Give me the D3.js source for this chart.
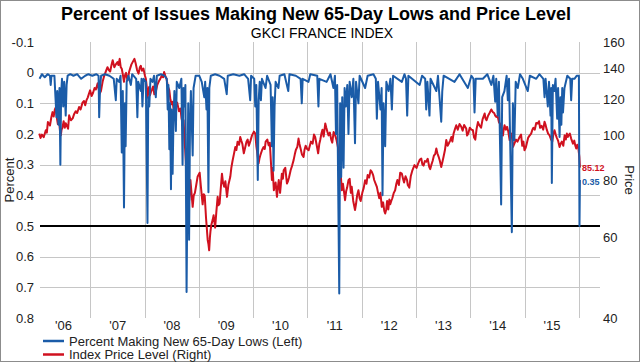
<!DOCTYPE html>
<html>
<head>
<meta charset="utf-8">
<script src="https://cdn.jsdelivr.net/npm/d3@7"></script>
<style>
  body { margin: 0; background: #fff; }
  svg { display: block; font-family: "Liberation Sans", Arial, sans-serif; }
</style>
</head>
<body>
<div id="chart"></div>
<script>
// percent of issues making new 65-day lows (left axis)
const lowsSeries = [
  ["2006-01-25", 0.02], ["2006-02-10", 0.005], ["2006-03-01", 0.015], ["2006-03-20", 0.005],
  ["2006-04-05", 0.01], ["2006-04-10", 0.04], ["2006-04-15", 0.01], ["2006-05-05", 0.01],
  ["2006-05-12", 0.08], ["2006-05-19", 0.145], ["2006-05-24", 0.06], ["2006-06-01", 0.17],
  ["2006-06-08", 0.05], ["2006-06-14", 0.30], ["2006-06-19", 0.07], ["2006-06-25", 0.02],
  ["2006-07-03", 0.11], ["2006-07-10", 0.03], ["2006-07-20", 0.14], ["2006-07-26", 0.04],
  ["2006-08-02", 0.01], ["2006-08-20", 0.005], ["2006-09-10", 0.01], ["2006-10-05", 0.005],
  ["2006-11-01", 0.02], ["2006-11-28", 0.01], ["2006-12-20", 0.005], ["2007-01-15", 0.01],
  ["2007-02-10", 0.005], ["2007-02-26", 0.01], ["2007-03-02", 0.145], ["2007-03-08", 0.05],
  ["2007-03-15", 0.01], ["2007-04-10", 0.005], ["2007-05-10", 0.01], ["2007-06-08", 0.02],
  ["2007-06-22", 0.09], ["2007-06-28", 0.02], ["2007-07-14", 0.03], ["2007-07-24", 0.01],
  ["2007-08-01", 0.26], ["2007-08-08", 0.06], ["2007-08-16", 0.44], ["2007-08-22", 0.10],
  ["2007-08-27", 0.24], ["2007-09-03", 0.03], ["2007-09-15", 0.01], ["2007-10-01", 0.04],
  ["2007-10-10", 0.005], ["2007-11-06", 0.02], ["2007-11-14", 0.145], ["2007-11-20", 0.03],
  ["2007-12-07", 0.06], ["2007-12-12", 0.02], ["2007-12-18", 0.11], ["2007-12-26", 0.02],
  ["2008-01-10", 0.03], ["2008-01-21", 0.49], ["2008-01-26", 0.08], ["2008-02-02", 0.11],
  ["2008-02-10", 0.02], ["2008-02-24", 0.03], ["2008-03-05", 0.01], ["2008-03-17", 0.08],
  ["2008-03-24", 0.01], ["2008-04-20", 0.005], ["2008-05-15", 0.01], ["2008-05-30", 0.02],
  ["2008-06-05", 0.12], ["2008-06-10", 0.04], ["2008-06-16", 0.25], ["2008-06-21", 0.10],
  ["2008-06-27", 0.38], ["2008-07-02", 0.12], ["2008-07-08", 0.33], ["2008-07-14", 0.15],
  ["2008-07-20", 0.06], ["2008-07-30", 0.19], ["2008-08-05", 0.03], ["2008-08-22", 0.05],
  ["2008-09-05", 0.02], ["2008-09-13", 0.30], ["2008-09-19", 0.05], ["2008-09-25", 0.11],
  ["2008-10-02", 0.04], ["2008-10-10", 0.715], ["2008-10-16", 0.35], ["2008-10-21", 0.10],
  ["2008-10-27", 0.545], ["2008-11-02", 0.17], ["2008-11-08", 0.06], ["2008-11-20", 0.27],
  ["2008-11-26", 0.05], ["2008-12-10", 0.01], ["2009-01-03", 0.01], ["2009-01-20", 0.03],
  ["2009-02-06", 0.08], ["2009-02-12", 0.03], ["2009-02-21", 0.12], ["2009-02-27", 0.05],
  ["2009-03-06", 0.39], ["2009-03-12", 0.05], ["2009-03-22", 0.01], ["2009-04-20", 0.005],
  ["2009-05-20", 0.01], ["2009-06-20", 0.02], ["2009-07-07", 0.07], ["2009-07-14", 0.01],
  ["2009-08-20", 0.005], ["2009-09-30", 0.01], ["2009-11-01", 0.005], ["2009-11-28", 0.02],
  ["2009-12-12", 0.09], ["2009-12-18", 0.01], ["2010-01-08", 0.02], ["2010-01-15", 0.11],
  ["2010-01-22", 0.04], ["2010-02-01", 0.35], ["2010-02-07", 0.09], ["2010-02-14", 0.03],
  ["2010-02-22", 0.09], ["2010-03-01", 0.02], ["2010-03-25", 0.05], ["2010-04-05", 0.01],
  ["2010-04-28", 0.04], ["2010-05-07", 0.24], ["2010-05-12", 0.08], ["2010-05-18", 0.32],
  ["2010-05-25", 0.11], ["2010-06-01", 0.03], ["2010-06-20", 0.05], ["2010-06-28", 0.01],
  ["2010-07-30", 0.005], ["2010-08-25", 0.06], ["2010-09-02", 0.005], ["2010-10-15", 0.01],
  ["2010-11-16", 0.02], ["2010-11-24", 0.10], ["2010-11-30", 0.02], ["2011-01-08", 0.03],
  ["2011-01-20", 0.005], ["2011-03-08", 0.01], ["2011-03-16", 0.11], ["2011-03-22", 0.02],
  ["2011-05-10", 0.03], ["2011-06-05", 0.005], ["2011-06-25", 0.05], ["2011-07-05", 0.01],
  ["2011-07-12", 0.20], ["2011-07-20", 0.04], ["2011-08-03", 0.72], ["2011-08-09", 0.10],
  ["2011-08-16", 0.34], ["2011-08-23", 0.08], ["2011-09-01", 0.31], ["2011-09-08", 0.05],
  ["2011-09-16", 0.11], ["2011-09-26", 0.04], ["2011-10-04", 0.20], ["2011-10-12", 0.03],
  ["2011-10-26", 0.08], ["2011-11-06", 0.02], ["2011-11-17", 0.23], ["2011-11-24", 0.03],
  ["2011-12-10", 0.10], ["2011-12-18", 0.01], ["2012-01-24", 0.05], ["2012-02-10", 0.01],
  ["2012-03-20", 0.005], ["2012-04-05", 0.02], ["2012-04-12", 0.15], ["2012-04-20", 0.03],
  ["2012-05-06", 0.12], ["2012-05-14", 0.05], ["2012-05-20", 0.40], ["2012-05-27", 0.10],
  ["2012-06-07", 0.24], ["2012-06-15", 0.03], ["2012-06-30", 0.06], ["2012-07-12", 0.02],
  ["2012-07-22", 0.12], ["2012-07-30", 0.01], ["2012-09-27", 0.03], ["2012-10-15", 0.005],
  ["2012-10-25", 0.02], ["2012-11-02", 0.14], ["2012-11-10", 0.01], ["2013-01-25", 0.04],
  ["2013-02-10", 0.01], ["2013-03-03", 0.02], ["2013-03-10", 0.12], ["2013-03-18", 0.03],
  ["2013-04-01", 0.14], ["2013-04-08", 0.02], ["2013-05-17", 0.06], ["2013-05-28", 0.01],
  ["2013-06-19", 0.16], ["2013-06-26", 0.06], ["2013-07-05", 0.01], ["2013-09-16", 0.03],
  ["2013-10-20", 0.005], ["2013-12-15", 0.05], ["2014-01-08", 0.01], ["2014-01-22", 0.02],
  ["2014-01-29", 0.13], ["2014-02-06", 0.02], ["2014-03-26", 0.02], ["2014-04-25", 0.005],
  ["2014-05-22", 0.04], ["2014-06-05", 0.01], ["2014-06-17", 0.095], ["2014-06-24", 0.02],
  ["2014-07-04", 0.14], ["2014-07-12", 0.03], ["2014-07-27", 0.43], ["2014-08-03", 0.08],
  ["2014-08-18", 0.06], ["2014-09-02", 0.01], ["2014-09-10", 0.09], ["2014-09-18", 0.02],
  ["2014-10-07", 0.52], ["2014-10-14", 0.10], ["2014-10-24", 0.22], ["2014-11-02", 0.03],
  ["2014-11-16", 0.05], ["2014-12-01", 0.005], ["2014-12-20", 0.02], ["2015-01-22", 0.06],
  ["2015-02-05", 0.01], ["2015-03-20", 0.02], ["2015-04-10", 0.005], ["2015-05-07", 0.02],
  ["2015-05-15", 0.08], ["2015-05-22", 0.02], ["2015-06-06", 0.11], ["2015-06-14", 0.03],
  ["2015-06-24", 0.14], ["2015-06-29", 0.05], ["2015-07-03", 0.36], ["2015-07-10", 0.04],
  ["2015-07-20", 0.06], ["2015-07-28", 0.02], ["2015-08-08", 0.15], ["2015-08-14", 0.05],
  ["2015-08-24", 0.21], ["2015-08-30", 0.08], ["2015-09-05", 0.17], ["2015-09-11", 0.05],
  ["2015-09-16", 0.13], ["2015-09-26", 0.05], ["2015-10-15", 0.01], ["2015-11-04", 0.02],
  ["2015-11-10", 0.09], ["2015-11-17", 0.02], ["2015-12-02", 0.02], ["2015-12-18", 0.01],
  ["2016-01-01", 0.01], ["2016-01-05", 0.50], ["2016-01-08", 0.35]
];

// GKCI France index price level (right axis, log)
const priceSeries = [
  ["2006-01-23", 101], ["2006-02-01", 98.8], ["2006-02-10", 100.5], ["2006-02-22", 99.2],
  ["2006-03-08", 102.7], ["2006-03-15", 101.5], ["2006-03-22", 107], ["2006-04-05", 105.2],
  ["2006-04-14", 109.5], ["2006-04-22", 112.5], ["2006-04-30", 110], ["2006-05-08", 114],
  ["2006-05-15", 115.4], ["2006-05-22", 109], ["2006-05-28", 106], ["2006-06-05", 108],
  ["2006-06-12", 102], ["2006-06-17", 100.1], ["2006-06-22", 103], ["2006-06-28", 104],
  ["2006-07-06", 107.5], ["2006-07-14", 104], ["2006-07-20", 106.4], ["2006-07-28", 105],
  ["2006-08-05", 103.5], ["2006-08-12", 110.7], ["2006-08-24", 108], ["2006-09-05", 109],
  ["2006-09-15", 111.5], ["2006-09-25", 113], ["2006-10-05", 112], ["2006-10-18", 115.4],
  ["2006-10-28", 114], ["2006-11-10", 118], ["2006-11-20", 119], ["2006-11-28", 116.5],
  ["2006-12-07", 119.5], ["2006-12-15", 121], ["2006-12-22", 123], ["2006-12-31", 125.5],
  ["2007-01-10", 122], ["2007-01-20", 124], ["2007-01-30", 127], ["2007-02-08", 126],
  ["2007-02-20", 130], ["2007-02-28", 126], ["2007-03-05", 123.4], ["2007-03-14", 125],
  ["2007-03-25", 131], ["2007-04-05", 135], ["2007-04-16", 138], ["2007-04-27", 141],
  ["2007-05-06", 139], ["2007-05-15", 138], ["2007-05-24", 142.5], ["2007-06-01", 146],
  ["2007-06-12", 141], ["2007-06-22", 143], ["2007-07-03", 144.6], ["2007-07-10", 142.5],
  ["2007-07-18", 147], ["2007-07-25", 141], ["2007-08-01", 139.9], ["2007-08-08", 136],
  ["2007-08-16", 131], ["2007-08-23", 135.5], ["2007-08-30", 137], ["2007-09-05", 133.5],
  ["2007-09-10", 132], ["2007-09-20", 138], ["2007-10-05", 143], ["2007-10-15", 145],
  ["2007-10-25", 147], ["2007-11-02", 144], ["2007-11-12", 139], ["2007-11-22", 136.5],
  ["2007-12-01", 141], ["2007-12-07", 142], ["2007-12-15", 138.5], ["2007-12-25", 140],
  ["2008-01-04", 135], ["2008-01-10", 133], ["2008-01-16", 128], ["2008-01-22", 121],
  ["2008-01-27", 125], ["2008-02-01", 127.6], ["2008-02-07", 122.5], ["2008-02-13", 124.4],
  ["2008-02-20", 126], ["2008-02-28", 128], ["2008-03-07", 123], ["2008-03-18", 125],
  ["2008-03-27", 129], ["2008-04-05", 131], ["2008-04-16", 133], ["2008-04-25", 135],
  ["2008-05-05", 134], ["2008-05-12", 137.6], ["2008-05-20", 135], ["2008-05-28", 133],
  ["2008-06-06", 128], ["2008-06-16", 125.5], ["2008-06-23", 120], ["2008-07-01", 117],
  ["2008-07-08", 118.5], ["2008-07-15", 114], ["2008-07-22", 117.5], ["2008-07-30", 116.4],
  ["2008-08-08", 118], ["2008-08-20", 113], ["2008-08-30", 114.5], ["2008-09-06", 109],
  ["2008-09-13", 106.3], ["2008-09-20", 108], ["2008-09-28", 96], ["2008-10-05", 88],
  ["2008-10-10", 76], ["2008-10-14", 86], ["2008-10-20", 80], ["2008-10-28", 72.3],
  ["2008-11-05", 80], ["2008-11-12", 75], ["2008-11-20", 69.9], ["2008-11-27", 74],
  ["2008-12-05", 75], ["2008-12-14", 78], ["2008-12-23", 81.3], ["2009-01-06", 83],
  ["2009-01-15", 77], ["2009-01-26", 70.8], ["2009-02-02", 74.5], ["2009-02-09", 74],
  ["2009-02-18", 66], ["2009-03-01", 59.2], ["2009-03-06", 58], ["2009-03-11", 56.2],
  ["2009-03-16", 60], ["2009-03-20", 62], ["2009-03-26", 64], ["2009-04-03", 65.4],
  ["2009-04-10", 67], ["2009-04-20", 63], ["2009-04-28", 68], ["2009-05-07", 73.5],
  ["2009-05-13", 70.5], ["2009-05-20", 71], ["2009-05-27", 76], ["2009-06-05", 82.6],
  ["2009-06-12", 79], ["2009-06-20", 77.3], ["2009-06-28", 79.5], ["2009-07-09", 73.5],
  ["2009-07-18", 78], ["2009-07-31", 81.3], ["2009-08-07", 85], ["2009-08-15", 88],
  ["2009-08-24", 91], ["2009-09-03", 94.4], ["2009-09-10", 93], ["2009-09-18", 97],
  ["2009-09-28", 95.5], ["2009-10-06", 99.3], ["2009-10-13", 97.5], ["2009-10-20", 96],
  ["2009-10-30", 91.5], ["2009-11-09", 94.4], ["2009-11-17", 97], ["2009-11-25", 98],
  ["2009-12-03", 95], ["2009-12-14", 97.5], ["2009-12-24", 100.1], ["2010-01-06", 102],
  ["2010-01-15", 101], ["2010-01-22", 95], ["2010-01-28", 92], ["2010-02-06", 86.9],
  ["2010-02-12", 89], ["2010-02-20", 91], ["2010-03-02", 93], ["2010-03-12", 94.4],
  ["2010-03-20", 93.5], ["2010-03-26", 97], ["2010-04-06", 98], ["2010-04-15", 95.2],
  ["2010-04-23", 96.5], ["2010-04-30", 88], ["2010-05-07", 80], ["2010-05-12", 85],
  ["2010-05-20", 76], ["2010-05-26", 78], ["2010-06-01", 79], ["2010-06-10", 73.5],
  ["2010-06-16", 77], ["2010-06-22", 80], ["2010-07-01", 75], ["2010-07-13", 82.6],
  ["2010-07-20", 80.5], ["2010-07-25", 84], ["2010-08-05", 85], ["2010-08-16", 78.6],
  ["2010-08-23", 79.5], ["2010-08-30", 81], ["2010-09-10", 84], ["2010-09-20", 86],
  ["2010-09-30", 88.4], ["2010-10-08", 91], ["2010-10-15", 93], ["2010-10-25", 94.5],
  ["2010-11-02", 98.5], ["2010-11-08", 96], ["2010-11-15", 94], ["2010-11-25", 91],
  ["2010-12-06", 89.8], ["2010-12-12", 93], ["2010-12-20", 95], ["2010-12-30", 93.5],
  ["2011-01-09", 92.9], ["2011-01-17", 95], ["2011-01-25", 97], ["2011-02-05", 96],
  ["2011-02-14", 100.5], ["2011-02-22", 99.3], ["2011-03-05", 95], ["2011-03-14", 91.5],
  ["2011-03-22", 96], ["2011-03-28", 97.8], ["2011-04-05", 101], ["2011-04-12", 103],
  ["2011-04-20", 99.5], ["2011-05-01", 106.3], ["2011-05-08", 104], ["2011-05-15", 102],
  ["2011-05-23", 100.1], ["2011-06-01", 101.5], ["2011-06-10", 98], ["2011-06-17", 96.5],
  ["2011-06-26", 101.8], ["2011-07-05", 100.5], ["2011-07-15", 98], ["2011-07-22", 95.5],
  ["2011-07-29", 92.9], ["2011-08-04", 85], ["2011-08-08", 79.9], ["2011-08-14", 81.5],
  ["2011-08-20", 76], ["2011-08-28", 78.5], ["2011-09-05", 75], ["2011-09-11", 72.3],
  ["2011-09-18", 75.5], ["2011-09-25", 77], ["2011-10-04", 79.9], ["2011-10-12", 80.5],
  ["2011-10-20", 75], ["2011-10-26", 77.3], ["2011-11-05", 72], ["2011-11-17", 68.8],
  ["2011-11-24", 71], ["2011-12-01", 74], ["2011-12-10", 76], ["2011-12-18", 73],
  ["2011-12-25", 72], ["2012-01-05", 75], ["2012-01-15", 77], ["2012-01-24", 79.9],
  ["2012-02-02", 78.5], ["2012-02-10", 82], ["2012-02-20", 81], ["2012-03-01", 84],
  ["2012-03-09", 83.3], ["2012-03-18", 82], ["2012-03-25", 80], ["2012-04-04", 78.5],
  ["2012-04-12", 77.3], ["2012-04-20", 75], ["2012-04-28", 73], ["2012-05-06", 75],
  ["2012-05-15", 69.9], ["2012-05-24", 71.5], ["2012-06-01", 68.5], ["2012-06-07", 67.6],
  ["2012-06-14", 69], ["2012-06-20", 72], ["2012-06-28", 69], ["2012-07-05", 72.5],
  ["2012-07-11", 70.8], ["2012-07-18", 72], ["2012-07-25", 73], ["2012-08-04", 75],
  ["2012-08-13", 76], ["2012-08-21", 78.5], ["2012-08-28", 80], ["2012-09-07", 78],
  ["2012-09-16", 83], ["2012-09-27", 82.6], ["2012-10-05", 80.5], ["2012-10-12", 79],
  ["2012-10-22", 81.5], ["2012-11-01", 80], ["2012-11-06", 78], ["2012-11-16", 77],
  ["2012-11-26", 81.5], ["2012-12-07", 84], ["2012-12-21", 86.2], ["2013-01-04", 85],
  ["2013-01-15", 87], ["2013-01-25", 88.5], ["2013-02-05", 89.1], ["2013-02-12", 86.5],
  ["2013-02-20", 86], ["2013-03-01", 88], ["2013-03-10", 87.7], ["2013-03-20", 89],
  ["2013-03-30", 85.5], ["2013-04-06", 84.5], ["2013-04-13", 86.2], ["2013-04-22", 88],
  ["2013-05-01", 90.5], ["2013-05-09", 91], ["2013-05-17", 93.7], ["2013-05-24", 91.5],
  ["2013-06-01", 90], ["2013-06-10", 88], ["2013-06-19", 85.4], ["2013-06-25", 87],
  ["2013-07-05", 90], ["2013-07-14", 93], ["2013-07-23", 97.8], ["2013-08-01", 95],
  ["2013-08-08", 96], ["2013-08-18", 97.5], ["2013-08-26", 99.3], ["2013-09-02", 97],
  ["2013-09-10", 101], ["2013-09-18", 103], ["2013-09-28", 105.3], ["2013-10-08", 103],
  ["2013-10-20", 106], ["2013-11-01", 104.5], ["2013-11-10", 102.5], ["2013-11-20", 105.5],
  ["2013-12-04", 103.6], ["2013-12-10", 100], ["2013-12-18", 101], ["2013-12-28", 104],
  ["2014-01-08", 103], ["2014-01-18", 102.7], ["2014-01-26", 99], ["2014-02-03", 98],
  ["2014-02-12", 103.5], ["2014-02-21", 107], ["2014-03-01", 105.5], ["2014-03-14", 104],
  ["2014-03-24", 108.5], ["2014-04-07", 111.7], ["2014-04-13", 109], ["2014-04-20", 108],
  ["2014-04-30", 110.5], ["2014-05-10", 112], ["2014-05-22", 114], ["2014-06-01", 112.5],
  ["2014-06-10", 112], ["2014-06-17", 110.5], ["2014-06-24", 109.8], ["2014-07-03", 110.5],
  ["2014-07-12", 107], ["2014-07-20", 106], ["2014-07-28", 103.6], ["2014-08-08", 100],
  ["2014-08-13", 103], ["2014-08-19", 105.3], ["2014-08-28", 103], ["2014-09-05", 104.5],
  ["2014-09-13", 102], ["2014-09-22", 97.8], ["2014-09-28", 100], ["2014-10-05", 101],
  ["2014-10-15", 94.5], ["2014-10-24", 96], ["2014-11-04", 98], ["2014-11-14", 97],
  ["2014-11-28", 99.3], ["2014-12-08", 100.5], ["2014-12-16", 95], ["2014-12-24", 97],
  ["2014-12-31", 92.9], ["2015-01-08", 94], ["2015-01-15", 96], ["2015-01-25", 99],
  ["2015-02-03", 100], ["2015-02-14", 101], ["2015-02-22", 103], ["2015-03-01", 104],
  ["2015-03-10", 103], ["2015-03-20", 106.5], ["2015-03-31", 106.3], ["2015-04-08", 107.5],
  ["2015-04-15", 104], ["2015-04-25", 105], ["2015-05-06", 103], ["2015-05-15", 107.2],
  ["2015-05-22", 105.5], ["2015-05-30", 103], ["2015-06-08", 101], ["2015-06-18", 100.1],
  ["2015-06-28", 98], ["2015-07-06", 97], ["2015-07-14", 101], ["2015-07-21", 102.7],
  ["2015-07-29", 100.5], ["2015-08-05", 99], ["2015-08-14", 97.5], ["2015-08-24", 94.4],
  ["2015-08-31", 96], ["2015-09-08", 97], ["2015-09-18", 95], ["2015-09-27", 100.1],
  ["2015-10-05", 98], ["2015-10-12", 101], ["2015-10-19", 99.3], ["2015-10-26", 100.5],
  ["2015-11-01", 101], ["2015-11-10", 98.5], ["2015-11-22", 96], ["2015-12-01", 97.5],
  ["2015-12-08", 95], ["2015-12-14", 93.7], ["2015-12-21", 95.5], ["2015-12-28", 94],
  ["2016-01-04", 90], ["2016-01-08", 85.12]
];

const leftTicks = [-0.1, 0, 0.1, 0.2, 0.3, 0.4, 0.5, 0.6, 0.7, 0.8];
const leftGrid = [0, 0.1, 0.2, 0.3, 0.4, 0.6, 0.7];
const thresholdLevel = 0.5;
const rightTicks = [40, 60, 80, 100, 120, 140, 160];
const yearLabels = ["'06", "'07", "'08", "'09", "'10", "'11", "'12", "'13", "'14", "'15"];
const legendLabels = ["Percent Making New 65-Day Lows (Left)", "Index Price Level (Right)"];

const width = 640, height = 362;
const plotLeft = 40, plotRight = 600, plotTop = 42, plotBottom = 318;
const blue = "#1b5ca8", red = "#d0111f", textColor = "#222";

const parse = d3.timeParse("%Y-%m-%d");
const lows = lowsSeries.map(d => ({ date: parse(d[0]), value: d[1] }));
const price = priceSeries.map(d => ({ date: parse(d[0]), value: d[1] }));

const svg = d3.select("#chart")
  .append("svg")
  .attr("width", width)
  .attr("height", height);

svg.append("rect")
  .attr("x", 0.5).attr("y", 0.5)
  .attr("width", width - 1).attr("height", height - 1)
  .attr("fill", "#fff")
  .attr("stroke", "#8c8c8c");

const x = d3.scaleTime()
  .domain([new Date(2006, 0, 28), new Date(2016, 4, 22)])
  .range([plotLeft, plotRight]);

const yLeft = d3.scaleLinear()
  .domain([-0.1, 0.8])
  .range([plotTop, plotBottom]);

const yRight = d3.scaleLog()
  .domain([40, 160])
  .range([plotBottom, plotTop]);

// grid
svg.append("g")
  .selectAll("line")
  .data(leftGrid)
  .join("line")
  .attr("x1", plotLeft).attr("x2", plotRight)
  .attr("y1", d => Math.round(yLeft(d)) + 0.5)
  .attr("y2", d => Math.round(yLeft(d)) + 0.5)
  .attr("stroke", "#c6c6c6");

const yearStarts = d3.range(2007, 2017).map(y => new Date(y, 0, 1));
svg.append("g")
  .selectAll("line")
  .data(yearStarts)
  .join("line")
  .attr("x1", d => Math.round(x(d)) + 0.5)
  .attr("x2", d => Math.round(x(d)) + 0.5)
  .attr("y1", plotTop).attr("y2", plotBottom)
  .attr("stroke", "#c6c6c6");

svg.append("line")
  .attr("x1", plotLeft).attr("x2", plotRight)
  .attr("y1", yLeft(thresholdLevel)).attr("y2", yLeft(thresholdLevel))
  .attr("stroke", "#000")
  .attr("stroke-width", 2);

// axes
const leftAxis = svg.append("g")
  .attr("transform", `translate(${plotLeft},0)`)
  .call(d3.axisLeft(yLeft).tickValues(leftTicks).tickSize(0).tickPadding(6).tickFormat(d => String(d)));

const rightAxis = svg.append("g")
  .attr("transform", `translate(${plotRight},0)`)
  .call(d3.axisRight(yRight).tickValues(rightTicks).tickSize(0).tickPadding(3).tickFormat(d => String(d)));

const midYears = d3.range(2006, 2016).map(y => new Date(y, 6, 1));
const xAxis = svg.append("g")
  .attr("transform", `translate(0,${plotBottom})`)
  .call(d3.axisBottom(x).tickValues(midYears).tickSize(0).tickPadding(3).tickFormat((d, i) => yearLabels[i]));

[leftAxis, rightAxis, xAxis].forEach(g => {
  g.select(".domain").remove();
  g.selectAll("text")
    .attr("fill", textColor)
    .style("font-family", "Liberation Sans, Arial, sans-serif")
    .style("font-size", "13px");
});

// lines
svg.append("path")
  .datum(price)
  .attr("fill", "none")
  .attr("stroke", red)
  .attr("stroke-width", 2)
  .attr("stroke-linejoin", "round")
  .attr("d", d3.line().x(d => x(d.date)).y(d => yRight(d.value)));

svg.append("path")
  .datum(lows)
  .attr("fill", "none")
  .attr("stroke", blue)
  .attr("stroke-width", 2)
  .attr("stroke-linejoin", "round")
  .attr("d", d3.line().x(d => x(d.date)).y(d => yLeft(d.value)));

// end value labels
const lastPrice = price[price.length - 1];
const lastLow = lows[lows.length - 1];
svg.append("text")
  .attr("x", x(lastPrice.date) + 2)
  .attr("y", yRight(lastPrice.value) + 3)
  .attr("fill", red)
  .style("font-size", "9px")
  .style("font-weight", "bold")
  .text(lastPrice.value.toFixed(2));

svg.append("text")
  .attr("x", x(lastLow.date) + 2)
  .attr("y", yLeft(lastLow.value) + 5)
  .attr("fill", blue)
  .style("font-size", "9px")
  .style("font-weight", "bold")
  .text(lastLow.value.toFixed(2));

// titles
svg.append("text")
  .attr("x", 316).attr("y", 20)
  .attr("text-anchor", "middle")
  .attr("fill", "#000")
  .style("font-size", "18px")
  .style("font-weight", "bold")
  .text("Percent of Issues Making New 65-Day Lows and Price Level");

svg.append("text")
  .attr("x", 322).attr("y", 38)
  .attr("text-anchor", "middle")
  .attr("fill", "#000")
  .style("font-size", "14px")
  .text("GKCI FRANCE INDEX");

svg.append("text")
  .attr("transform", "translate(14,180) rotate(-90)")
  .attr("text-anchor", "middle")
  .attr("fill", textColor)
  .style("font-size", "13px")
  .text("Percent");

svg.append("text")
  .attr("transform", "translate(625,180) rotate(90)")
  .attr("text-anchor", "middle")
  .attr("fill", textColor)
  .style("font-size", "13px")
  .text("Price");

// legend
const legend = svg.append("g")
  .selectAll("g")
  .data(legendLabels)
  .join("g")
  .attr("transform", (d, i) => `translate(43, ${341 + i * 13.5})`);

legend.append("line")
  .attr("x1", 0).attr("x2", 21)
  .attr("stroke", (d, i) => i === 0 ? blue : red)
  .attr("stroke-width", 2.5);

legend.append("text")
  .attr("x", 26)
  .attr("y", 4.5)
  .attr("fill", textColor)
  .style("font-size", "13px")
  .text(d => d);
</script>
</body>
</html>
